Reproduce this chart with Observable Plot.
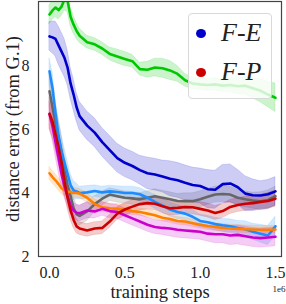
<!DOCTYPE html>
<html>
<head>
<meta charset="utf-8">
<script src="https://cdn.jsdelivr.net/npm/d3@7"></script>
<script src="https://cdn.jsdelivr.net/npm/@observablehq/plot@0.6"></script>
<style>
  html, body { margin: 0; padding: 0; background: #fff; }
  #wrap { position: relative; width: 286px; height: 304px; }
  .legend { position: absolute; left: 188px; top: 13px; width: 82px; height: 84px;
    border: 1px solid #d9d9d9; border-radius: 4px; background: rgba(255,255,255,0.8);
    font-family: "Liberation Serif", serif; font-style: italic; font-size: 26px; color: #222; }
  .legend .dot { position: absolute; width: 10px; height: 9px; border-radius: 50%; }
  .legend .lab { position: absolute; line-height: 1; }
</style>
</head>
<body>
<div id="wrap"></div>
<script>
// training steps (in units of 1e6)
const steps = [0, 0.02, 0.04, 0.06, 0.08, 0.10, 0.12, 0.14, 0.16, 0.18, 0.20, 0.25, 0.30, 0.35, 0.40, 0.45, 0.50, 0.55, 0.60, 0.65, 0.70, 0.75, 0.80, 0.85, 0.90, 0.95, 1.00, 1.05, 1.10, 1.15, 1.20, 1.25, 1.30, 1.35, 1.40, 1.45, 1.50];

const greenVals = [9.62, 9.75, 9.84, 9.76, 9.87, 10.1, 10.05, 9.55, 9.3, 9.1, 8.95, 8.75, 8.68, 8.55, 8.38, 8.3, 8.22, 8.15, 7.9, 7.88, 7.95, 7.93, 7.86, 7.75, 7.55, 7.45, 7.42, 7.4, 7.42, 7.38, 7.4, 7.36, 7.38, 7.3, 7.22, 7.1, 7.0];
const greenSpread = [0.3, 0.3, 0.3, 0.3, 0.3, 0.35, 0.35, 0.3, 0.28, 0.25, 0.22, 0.2, 0.2, 0.2, 0.2, 0.22, 0.22, 0.2, 0.2, 0.25, 0.28, 0.3, 0.3, 0.25, 0.2, 0.18, 0.18, 0.18, 0.2, 0.2, 0.22, 0.25, 0.28, 0.32, 0.36, 0.4, 0.45];

const feVals = [8.93, 8.9, 8.85, 8.65, 8.45, 8.25, 7.95, 7.45, 7.1, 6.7, 6.42, 6.12, 5.9, 5.6, 5.35, 5.1, 4.95, 4.85, 4.72, 4.62, 4.58, 4.52, 4.45, 4.4, 4.32, 4.25, 4.22, 4.12, 4.1, 4.28, 4.3, 4.18, 3.98, 3.93, 3.92, 3.96, 4.05];
const feSpread = [0.45, 0.5, 0.55, 0.6, 0.6, 0.6, 0.55, 0.5, 0.5, 0.45, 0.45, 0.45, 0.45, 0.45, 0.45, 0.45, 0.45, 0.45, 0.45, 0.5, 0.5, 0.5, 0.55, 0.55, 0.55, 0.55, 0.55, 0.6, 0.6, 0.6, 0.6, 0.55, 0.55, 0.5, 0.45, 0.45, 0.45];

const lightBlueVals = [7.83, 7.3, 6.5, 5.8, 5.3, 4.95, 4.6, 4.25, 4.08, 4.05, 4.0, 4.02, 4.06, 4.02, 4.05, 4.03, 4.0, 4.0, 3.96, 3.85, 3.72, 3.6, 3.48, 3.4, 3.35, 3.25, 3.12, 3.08, 3.02, 2.98, 2.95, 2.9, 2.86, 2.78, 2.72, 2.66, 2.95];
const lightBlueSpread = [0.4, 0.5, 0.5, 0.5, 0.5, 0.45, 0.4, 0.35, 0.3, 0.25, 0.2, 0.2, 0.18, 0.18, 0.18, 0.18, 0.2, 0.2, 0.2, 0.2, 0.22, 0.22, 0.22, 0.22, 0.22, 0.22, 0.2, 0.2, 0.2, 0.2, 0.22, 0.22, 0.25, 0.25, 0.28, 0.3, 0.3];

const grayVals = [7.2, 6.7, 6.2, 5.75, 5.3, 4.7, 4.25, 3.9, 3.52, 3.33, 3.28, 3.42, 3.65, 3.82, 3.95, 3.9, 3.85, 3.83, 3.8, 3.85, 3.9, 3.85, 3.8, 3.75, 3.74, 3.74, 3.8, 3.88, 3.95, 3.97, 3.95, 3.85, 3.8, 3.76, 3.74, 3.78, 3.9];
const graySpread = [0.5, 0.6, 0.6, 0.6, 0.55, 0.5, 0.45, 0.4, 0.35, 0.3, 0.3, 0.3, 0.25, 0.22, 0.2, 0.2, 0.2, 0.2, 0.2, 0.2, 0.22, 0.22, 0.22, 0.22, 0.25, 0.25, 0.25, 0.25, 0.25, 0.25, 0.25, 0.25, 0.25, 0.25, 0.28, 0.3, 0.3];

const orangeVals = [4.62, 4.5, 4.4, 4.28, 4.15, 4.08, 4.05, 4.03, 4.0, 4.0, 3.98, 3.85, 3.65, 3.55, 3.52, 3.5, 3.47, 3.43, 3.4, 3.35, 3.3, 3.22, 3.18, 3.12, 3.1, 3.05, 3.0, 2.96, 2.93, 2.9, 2.88, 2.87, 2.86, 2.85, 2.84, 2.84, 2.85];
const orangeSpread = [0.2, 0.2, 0.2, 0.2, 0.18, 0.18, 0.15, 0.15, 0.15, 0.15, 0.15, 0.15, 0.15, 0.15, 0.15, 0.15, 0.15, 0.12, 0.12, 0.12, 0.12, 0.12, 0.12, 0.12, 0.12, 0.12, 0.12, 0.12, 0.12, 0.12, 0.12, 0.12, 0.12, 0.12, 0.12, 0.12, 0.12];

const magentaVals = [6.48, 6.1, 5.6, 5.1, 4.6, 4.2, 3.9, 3.6, 3.45, 3.38, 3.36, 3.45, 3.42, 3.5, 3.43, 3.4, 3.3, 3.2, 3.1, 3.0, 2.93, 2.9, 2.88, 2.84, 2.82, 2.8, 2.78, 2.72, 2.7, 2.7, 2.66, 2.68, 2.64, 2.6, 2.58, 2.6, 2.62];
const magentaSpread = [0.4, 0.45, 0.45, 0.45, 0.4, 0.35, 0.3, 0.28, 0.25, 0.25, 0.25, 0.25, 0.22, 0.22, 0.22, 0.22, 0.22, 0.22, 0.22, 0.22, 0.22, 0.22, 0.25, 0.25, 0.25, 0.25, 0.25, 0.25, 0.28, 0.28, 0.3, 0.3, 0.3, 0.3, 0.3, 0.3, 0.3];

const fpVals = [6.5, 6.25, 5.85, 5.45, 4.95, 4.35, 3.85, 3.45, 3.15, 2.95, 2.88, 2.82, 2.88, 2.9, 3.1, 3.35, 3.48, 3.57, 3.65, 3.68, 3.66, 3.58, 3.52, 3.53, 3.56, 3.55, 3.5, 3.45, 3.37, 3.43, 3.56, 3.62, 3.66, 3.68, 3.72, 3.75, 3.82];
const fpSpread = [0.5, 0.5, 0.5, 0.5, 0.45, 0.4, 0.35, 0.3, 0.25, 0.22, 0.2, 0.2, 0.2, 0.2, 0.2, 0.2, 0.2, 0.2, 0.2, 0.2, 0.2, 0.22, 0.22, 0.22, 0.22, 0.22, 0.22, 0.22, 0.22, 0.22, 0.22, 0.22, 0.22, 0.22, 0.22, 0.25, 0.25];

const seriesNames = ["green", "gray", "lightblue", "orange", "magenta", "F-P", "F-E"];
const seriesColors = ["#00c800", "#666666", "#1e8cff", "#ff8000", "#cc00cc", "#cc0000", "#0000cc"];
const seriesVals = [greenVals, grayVals, lightBlueVals, orangeVals, magentaVals, fpVals, feVals];
const seriesSpread = [greenSpread, graySpread, lightBlueSpread, orangeSpread, magentaSpread, fpSpread, feSpread];

const yTicks = [2, 4, 6, 8];
const xTicks = [0, 0.5, 1.0, 1.5];
const legendNames = ["F-E", "F-P"];
const legendColors = ["#0000cc", "#cc0000"];

const serif = "'Liberation Serif', 'DejaVu Serif', serif";

const tables = seriesNames.map((name, i) =>
  steps.map((s, j) => ({
    series: name, x: s, y: seriesVals[i][j],
    lo: seriesVals[i][j] - seriesSpread[i][j],
    hi: seriesVals[i][j] + seriesSpread[i][j]
  }))
);

const marks = [];
tables.forEach((rows, i) => {
  marks.push(Plot.areaY(rows, {x: "x", y1: "lo", y2: "hi", fill: seriesColors[i], fillOpacity: 0.2, stroke: seriesColors[i], strokeOpacity: 0.12, clip: true}));
});
tables.forEach((rows, i) => {
  marks.push(Plot.lineY(rows, {x: "x", y: "y", stroke: seriesColors[i], strokeWidth: 2.6, clip: true}));
});
marks.push(Plot.frame({stroke: "#444", strokeWidth: 1.2}));
marks.push(Plot.text(["1e6"], {frameAnchor: "bottom-right", dx: 4, dy: 35, fontSize: 9, textAnchor: "end"}));

const chart = Plot.plot({
  width: 286,
  height: 304,
  marginLeft: 38,
  marginRight: 5,
  marginTop: 1,
  marginBottom: 48,
  style: {fontFamily: serif, fontSize: "16px", color: "#222", background: "#fff"},
  x: {domain: [-0.073, 1.54], ticks: xTicks, tickFormat: d3.format(".1f"), tickSize: 0, tickPadding: 10,
      label: "training steps", labelAnchor: "center", labelArrow: "none", labelOffset: 41},
  y: {domain: [2, 10.03], ticks: yTicks, tickSize: 0, tickPadding: 9,
      label: "distance error (from G.1)", labelAnchor: "center", labelArrow: "none", labelOffset: 33},
  marks
});

const wrap = document.getElementById("wrap");
wrap.appendChild(chart);
// larger axis titles, as in the reference
d3.select(chart).selectAll("g[aria-label='x-axis label'] text, g[aria-label='y-axis label'] text")
  .style("font-size", "18.5px");

const leg = document.createElement("div");
leg.className = "legend";
legendNames.forEach((name, i) => {
  const dot = document.createElement("div");
  dot.className = "dot";
  dot.style.background = legendColors[i];
  dot.style.left = "7px";
  dot.style.top = (15 + i * 39) + "px";
  leg.appendChild(dot);
  const lab = document.createElement("div");
  lab.className = "lab";
  lab.textContent = name;
  lab.style.left = "32px";
  lab.style.top = (6 + i * 39) + "px";
  leg.appendChild(lab);
});
wrap.appendChild(leg);
</script>
</body>
</html>
